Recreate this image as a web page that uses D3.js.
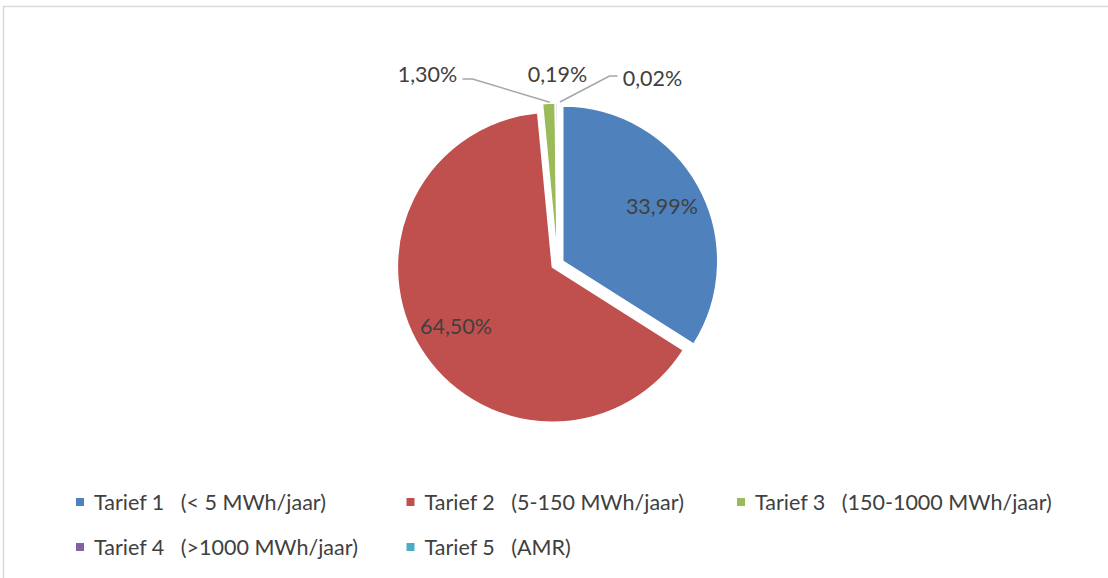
<!DOCTYPE html>
<html>
<head>
  <meta charset="utf-8">
  <title>Tarieven</title>
  <style>
    body { margin: 0; background: #fff; }
    svg { display: block; }
    text { font-family: Lato, "Liberation Sans", sans-serif; fill: #404040; font-size: 21.5px; }
    .legend text { white-space: pre; }
    .leader { fill: none; stroke: #a6a6a6; stroke-width: 1.5px; }
  </style>
</head>
<body>
  <script src="https://d3js.org/d3.v7.min.js"></script>
  <script>
    // data
    const categories = ["Tarief 1   (< 5 MWh/jaar)", "Tarief 2   (5-150 MWh/jaar)", "Tarief 3   (150-1000 MWh/jaar)",
                        "Tarief 4   (>1000 MWh/jaar)", "Tarief 5   (AMR)"];
    const values = [33.99, 64.50, 1.30, 0.19, 0.02];
    const labels = ["33,99%", "64,50%", "1,30%", "0,19%", "0,02%"];
    const colors = ["#4f81bd", "#c0504d", "#9bbb59", "#8064a2", "#4bacc6"];

    const width = 1108, height = 578;
    const cx = 557.5, cy = 264, R = 155, explode = 6;

    const svg = d3.select("body").append("svg")
      .attr("width", width).attr("height", height);

    svg.append("rect")
      .attr("x", 3.5).attr("y", 6.5)
      .attr("width", width + 10).attr("height", height + 10)
      .attr("fill", "#fff").attr("stroke", "#d9d9d9").attr("stroke-width", 1.5);

    const pie = d3.pie().sort(null).value(d => d)(values);
    const arc = d3.arc().innerRadius(0).outerRadius(R);

    const g = svg.append("g").attr("transform", `translate(${cx},${cy})`);

    const off = d => {
      const a = (d.startAngle + d.endAngle) / 2;
      return [Math.sin(a) * explode, -Math.cos(a) * explode];
    };

    g.selectAll("path.slice")
      .data(pie)
      .join("path")
      .attr("class", "slice")
      .attr("d", arc)
      .attr("fill", (d, i) => colors[i])
      .attr("stroke", "#fff")
      .attr("stroke-width", 1.5)
      .attr("transform", d => `translate(${off(d)})`);

    // labels inside the two big slices
    const inner = pie.slice(0, 2);
    const rl = R * 0.73 + explode;
    g.selectAll("text.inlab")
      .data(inner)
      .join("text")
      .attr("class", "inlab")
      .attr("text-anchor", "middle")
      .attr("dy", "0.35em")
      .attr("x", d => Math.sin((d.startAngle + d.endAngle) / 2) * rl)
      .attr("y", d => -Math.cos((d.startAngle + d.endAngle) / 2) * rl)
      .text((d, i) => labels[i]);

    // outside labels for the small slices
    const small = pie.slice(2);
    const labelShift = [-130, 0, 95];     // horizontal spread of the outside labels
    const labelY = [-190, -190, -186];
    small.forEach((d, k) => {
      const i = k + 2;
      const a = (d.startAngle + d.endAngle) / 2;
      const px = Math.sin(a) * (R + explode), py = -Math.cos(a) * (R + explode);
      const lx = labelShift[k], ly = labelY[k];
      g.append("text")
        .attr("x", lx).attr("y", ly)
        .attr("text-anchor", "middle")
        .attr("dy", "0.35em")
        .text(labels[i]);
      if (k === 0) {
        const ex = lx + 35;
        g.append("polyline").attr("class", "leader")
          .attr("points", [[ex, ly + 5], [ex + 10, ly + 5], [px + 1, py - 1]].join(" "));
      } else if (k === 2) {
        const ex = lx - 35;
        g.append("polyline").attr("class", "leader")
          .attr("points", [[ex, ly - 2], [ex - 8, ly - 2], [px + 2.5, py - 1]].join(" "));
      }
    });

    // legend
    const legend = svg.append("g").attr("class", "legend");
    const item = legend.selectAll("g")
      .data(categories)
      .join("g")
      .attr("transform", (d, i) => `translate(${76 + (i % 3) * 330.5},${502 + Math.floor(i / 3) * 45})`);
    item.append("rect")
      .attr("x", 0).attr("y", -4).attr("width", 8).attr("height", 8)
      .attr("fill", (d, i) => colors[i]);
    item.append("text")
      .attr("x", 18).attr("dy", "0.35em")
      .text(d => d);
  </script>
</body>
</html>
